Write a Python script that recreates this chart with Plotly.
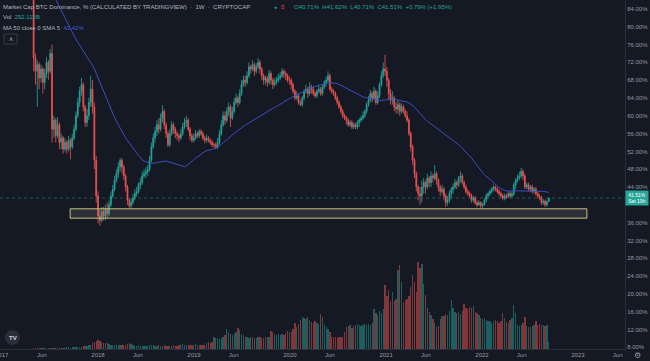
import pandas as pd
import plotly.graph_objects as go

# ---------------- DATA (weekly, Monday-start) ----------------
START = "2016-08-15"
FIRST_OPEN = 95.0

# 2016-08-15 .. 2017-04-24 (above the visible range) + 2017-05-01 .. 2017-12-25
close_a = [95.5, 95.8, 96.0, 95.7, 96.1, 95.9, 96.2, 96.0, 95.8, 96.1, 95.6, 95.9, 96.0, 95.4, 95.7, 95.5, 95.1, 94.8, 94.2,
           93.0, 92.0, 91.5, 92.2, 91.8, 91.0, 90.4, 89.8, 89.0, 88.5, 88.0, 87.8, 87.5, 88.0, 88.8, 88.0, 87.5, 87.0,
           73, 70, 71.5, 68.5, 70.5, 67.5, 69.5, 72, 70, 74, 57, 59, 55.5, 58, 54, 55, 52.5, 54, 52.5, 54.5, 53, 55, 57,
           60, 63, 65.5, 67, 62, 58.5, 60, 63, 66, 62, 50, 42]
high_a = [96.3, 96.5, 96.8, 96.4, 96.8, 96.6, 96.9, 96.7, 96.5, 96.8, 96.3, 96.6, 96.7, 96.1, 96.4, 96.2, 95.8, 95.5, 95.0,
          94.4, 93.2, 92.5, 93.0, 92.6, 91.8, 91.2, 90.6, 89.8, 89.3, 88.8, 88.5, 88.3, 88.8, 89.6, 89.2, 88.5, 88.2,
          87.5, 74, 72.5, 72, 71.5, 71, 70.5, 73.2, 72.5, 75, 76, 60, 59.5, 59.7, 58.5, 56, 55.5, 55, 54.5, 55.5, 55, 56,
          58, 61, 64, 66.5, 68.5, 67.5, 62.5, 61.5, 64, 69, 68, 63, 51]
low_a = [94.8, 95.1, 95.3, 95.0, 95.4, 95.2, 95.5, 95.3, 95.1, 95.4, 94.9, 95.2, 95.3, 94.7, 95.0, 94.8, 94.4, 94.1, 93.5,
         92.3, 91.3, 90.8, 91.2, 91.0, 90.3, 89.7, 89.1, 88.3, 87.8, 87.3, 87.1, 86.8, 87.2, 87.8, 87.3, 86.8, 86.3,
         70, 67, 62, 66, 67.5, 65, 66, 68.5, 68, 69.5, 54, 55, 54, 55, 52.5, 52.5, 51.5, 52, 51.5, 52, 50.2, 52.5, 54.5,
         56.5, 59.5, 62, 64.5, 61, 57.5, 57.5, 59, 62, 60.5, 48, 40.5]

# 2018-01-01 .. 2018-12-24
close_b = [37.5, 36.5, 38.5, 37.5, 39, 38, 40, 42, 43.5, 45.5, 47, 48.5, 50, 48.5, 46.5, 44, 41, 39.8, 40.5, 41.5,
           42.5, 43, 44.5, 45, 46.5, 47, 47.5, 48, 50, 53, 55, 56.5, 58, 57, 59.5, 61, 58, 56, 53.5, 56,
           58, 57, 56, 55.5, 55, 56, 57.5, 58.5, 59, 57, 55.5, 54.5]
high_b = [43, 39, 39.5, 39.5, 40, 40.5, 41, 43, 44.5, 46.5, 48, 49.5, 50.5, 50.5, 49, 47, 44.5, 41.5, 41.5, 42.5,
          43.5, 44, 45, 46, 47.5, 48, 48.5, 49, 51, 54, 56, 57.5, 59, 59.5, 60.5, 62.4, 61.5, 58.5, 56.5, 57,
          58.8, 58.5, 57.5, 56.5, 56, 57, 58.5, 59.5, 60, 59.5, 57.5, 56]
low_b = [35.8, 35.3, 36, 36.5, 36.5, 37, 37.5, 39.5, 41.5, 43, 45, 46, 47.5, 47, 45.5, 43, 40, 39.2, 39.3, 40,
         41, 41.8, 42.5, 43.5, 44.5, 46, 46, 46.5, 47.5, 49.5, 52.5, 54, 55.5, 56, 56.5, 58.5, 57, 55, 53, 53,
         55.5, 56, 55, 54.5, 54, 54.5, 55.5, 57, 57.5, 56.5, 54.5, 54]

# 2018-12-31 .. 2019-12-23
close_c = [55, 56, 55.5, 56.5, 56, 55, 54.5, 55, 54.5, 54, 53.5, 53.5, 53, 54, 56, 58, 60, 59, 61, 62,
           59.5, 61, 63, 64, 63, 65, 67, 68, 67.5, 69, 71, 70.5, 71.5, 70, 71, 72, 70.5, 69, 68, 68.5,
           67.5, 69.5, 68, 67, 67.5, 68, 68.5, 69, 70, 69.5, 69, 68]
high_c = [56, 56.8, 56.5, 57, 57, 56.5, 55.5, 55.8, 55.5, 55, 54.5, 54, 54, 55, 56.8, 59, 61, 61, 62, 63,
          62.5, 62, 64, 65, 64.5, 66, 68, 69, 69, 70, 72, 71.5, 72.5, 72, 71.8, 73, 72.5, 71, 69.5, 69,
          69, 70.3, 70, 68.5, 68.5, 68.8, 69.5, 69.8, 70.7, 70.5, 70, 69.5]
low_c = [54, 54.5, 55, 55, 55.5, 54.5, 53.8, 54, 54, 53.5, 53, 52.8, 52.5, 52.5, 53.5, 55.5, 57.5, 58, 58.5, 60,
         57.5, 59, 60.5, 62.5, 62, 62.5, 64.5, 66.5, 66.5, 67, 68.5, 69.5, 70, 69, 69.5, 70.5, 69.5, 68, 67, 67,
         66.5, 67, 67, 66, 66.5, 67, 67.5, 68, 68.5, 68.5, 68, 67.5]

# 2019-12-30 .. 2020-12-21
close_d = [68, 67, 65.5, 64, 64.5, 63, 62.5, 64, 65.5, 66, 65, 66.5, 66, 65, 64.5, 65.5, 66, 65, 66.5, 67.5,
           68, 69, 66, 65.5, 65, 64, 63, 62, 61, 60, 59.5, 59, 58, 58.5, 57.5, 58, 57.5, 58.5, 59, 59.5,
           60, 61, 62.5, 63.5, 65, 64, 65.5, 63, 64.5, 67, 69, 70.5]
high_d = [69, 68.5, 67.5, 66, 65.5, 65, 63.5, 64.5, 66, 67, 66.5, 67.5, 67, 66.5, 65.5, 66, 67, 66.5, 67, 68,
          68.8, 70, 69.5, 66.5, 66, 65.5, 64.5, 63.5, 62.5, 61.5, 60.5, 60, 59.5, 59, 59, 58.5, 58.5, 59, 59.5, 60,
          61, 61.5, 63, 64.5, 65.8, 65.5, 66.5, 66, 65.5, 67.5, 70, 72]
low_d = [67, 66, 65, 63.5, 63.5, 62.5, 62.2, 62, 63.5, 65, 64, 64.5, 65, 64.5, 64, 64, 65, 64.5, 64.5, 66,
         66.5, 67.5, 65.5, 65, 64.5, 63.5, 62.5, 61.5, 60.5, 59.5, 59, 58, 57.5, 57.5, 57, 57, 57, 57, 57.5, 58.5,
         59, 59.5, 60.5, 62, 63, 63, 63.5, 62.5, 62.5, 64, 66.5, 68.5]

# 2020-12-28 .. 2021-12-20
close_e = [70, 68, 65, 63.5, 64, 62, 61.5, 62.5, 61, 62, 61, 60, 59, 56, 53, 50, 47, 44, 42.5, 42,
           44, 45, 44, 46, 45, 46.5, 46, 47, 45.5, 44, 43, 43.5, 42, 40.5, 41, 42.5, 43.5, 44, 45, 44.5,
           46, 46.5, 45, 44, 43, 42.5, 42, 41, 41.5, 40.5, 40, 40.5]
high_e = [73.7, 71, 68.5, 66, 65.5, 64.5, 63, 63.5, 63, 62.8, 62.5, 61.5, 61, 59.5, 56.5, 53.5, 50.5, 47.5, 44.5, 44,
          45.5, 46, 45.5, 47, 46.5, 47.5, 47, 48.9, 47.5, 46, 44.5, 44.5, 44, 42.5, 42, 43.2, 44, 44.8, 45.8, 45.5,
          46.5, 47.5, 47, 45.5, 44.5, 43.5, 43, 42.5, 42, 42, 41, 41]
low_e = [69, 66.5, 63.5, 62.5, 62.5, 61, 60.5, 60.5, 60, 60.5, 60.5, 59.5, 58.5, 55.5, 52, 49, 46, 43, 41, 40,
         40.5, 42.5, 42.5, 43.5, 44, 44, 45, 45.5, 44.5, 43, 42, 42.5, 41, 39.5, 39.8, 40.5, 41.5, 42.5, 43.5, 43.5,
         44, 45, 44.5, 43.5, 42.5, 42, 41.5, 40.5, 40.5, 40, 39.5, 39.8]

# 2021-12-27 .. 2022-09-12
close_f = [39.8, 40, 41, 42, 42.5, 43, 43.5, 44, 43.5, 43, 42.5, 42, 41.5, 42, 41.8, 42.5, 42, 42.5, 44.5, 45.5,
           46, 46.5, 47.5, 46.5, 44, 44.5, 43.5, 44, 43, 43.5, 42.5, 42, 41.5, 40.5, 40.8, 40, 40.71, 41.51]
high_f = [40.8, 40.5, 41.5, 42.5, 43, 43.5, 44, 44.5, 44.3, 44, 43.5, 43, 42.5, 42.5, 42.5, 43, 43, 43, 45, 46,
          46.8, 47.5, 48.3, 48, 47, 45, 45, 44.5, 44.5, 44, 44, 43, 42.5, 42, 41.3, 41.2, 41, 41.62]
low_f = [39.3, 39.3, 39.8, 40.5, 41.5, 42, 42.5, 43, 43, 42.5, 42, 41.5, 41, 41, 41.3, 41.5, 41.5, 41.5, 42, 43.5,
         45, 45.5, 46, 45.5, 43.5, 43.5, 43, 43, 42.5, 42.5, 42, 41.5, 41, 40, 40, 39.5, 39.6, 40.71]

# weekly volume (billions), from 2017-05-01 onward
VOL_START = "2017-05-01"
volume = [25, 30, 30, 35, 30, 35, 40, 35, 40, 45, 50, 40, 40, 45, 40, 60, 55, 60, 65, 70, 60, 65, 70, 75, 80, 85, 90,
          110, 120, 140, 160, 150, 250, 300, 330,
          360, 330, 280, 240, 230, 240, 210, 180, 170, 160, 165, 160, 170, 160, 165, 170, 190, 230, 210, 150,
          145, 140, 150, 145, 140, 135, 140, 145, 150, 160, 150, 145, 140, 150, 145, 140, 150, 145, 140, 135,
          140, 150, 140, 145, 150, 170, 190, 180, 175, 170, 180, 185,
          180, 190, 175, 180, 170, 175, 180, 270, 280, 250, 300, 500, 460, 440, 420, 450, 480, 600, 830, 700,
          620, 600, 640, 700, 860, 780, 640, 600, 520, 480, 470, 490, 480, 460, 470, 490, 480, 470, 460, 500,
          520, 500, 750, 700, 620, 600, 640, 600, 620, 600, 650, 750,
          720, 700, 850, 1070, 900, 1050, 1200, 1330, 1300, 1250, 1330, 1200, 1120, 1080, 1150, 1100, 1050, 1440,
          1350, 1000, 900, 850, 700, 520, 480, 500, 450, 480, 520, 520, 700, 900, 950, 1000, 880, 950, 1000, 1040,
          1000, 950, 1000, 1040, 1000, 1050, 1000, 1100, 1650, 1500, 1400, 1580, 1500, 1650,
          2670, 2200, 2460, 2000, 2390, 2000, 2100, 3300, 3500, 2800, 1970, 2050, 2100, 2200, 2600, 3100, 2800, 2390,
          3630, 3400, 3530, 2700, 2250, 1700, 1560, 1400, 1250, 1100, 930, 950, 1250, 1380, 1380, 1450, 1400, 1600,
          2040, 1700, 1550, 1500, 1550, 1450, 1600, 1860, 1700, 1650, 1750, 1700, 1800, 1550, 1490, 1400,
          1300, 1250, 1290, 1200, 1150, 1170, 1100, 1170, 1200, 1150, 1100, 1170, 1490, 1300, 1140, 1100, 1200, 1300,
          1840, 1500, 1000, 950, 1000, 1100, 1350, 950, 930, 900, 950, 1000, 1180, 1000, 1050, 1000, 1000, 980, 1000, 290]

support_zone = (37.0, 39.1)
support_dates = ("2017-09-17", "2023-02-04")
ma_period = 50
price_ticks = [84, 80, 76, 72, 68, 64, 60, 56, 52, 48, 44, 36, 32, 28, 24, 20, 16, 12, 8]
time_ticks = ["2017-06-01", "2018-01-01", "2018-06-01", "2019-01-01", "2019-06-01",
              "2020-01-01", "2020-06-01", "2021-01-01", "2021-06-01", "2022-01-01", "2022-06-01",
              "2023-01-01", "2023-06-01"]
time_labels = ["Jun", "2018", "Jun", "2019", "Jun", "2020", "Jun", "2021", "Jun", "2022", "Jun", "2023", "Jun"]

# ---------------- BUILD ----------------
close = close_a + close_b + close_c + close_d + close_e + close_f
high = high_a + high_b + high_c + high_d + high_e + high_f
low = low_a + low_b + low_c + low_d + low_e + low_f
assert len(close) == len(high) == len(low)
dates = pd.date_range(START, periods=len(close), freq="W-MON")
openp = [FIRST_OPEN] + close[:-1]
high = [max(h, o, c) for h, o, c in zip(high, openp, close)]
low = [min(l, o, c) for l, o, c in zip(low, openp, close)]
df = pd.DataFrame({"open": openp, "high": high, "low": low, "close": close}, index=dates)
ma = df["close"].rolling(ma_period).mean()

vstart = list(dates).index(pd.Timestamp(VOL_START))
vdates = dates[vstart:vstart + len(volume)]
vup = [c >= o for o, c in zip(openp[vstart:], close[vstart:])]

UP = "#26a69a"
DOWN = "#ef5350"
BG = "#151924"
TXT = "#9598a1"
PW, PH = 625, 349
YMIN, YMAX = 7.6, 86.02

fig = go.Figure()
fig.add_trace(go.Bar(
    x=vdates, y=volume, yaxis="y2",
    marker=dict(color=["rgba(38,166,154,0.5)" if u else "rgba(239,83,80,0.5)" for u in vup], line=dict(width=0)),
    width=7 * 24 * 3600 * 1000 * 0.72, hoverinfo="skip", showlegend=False))
fig.add_trace(go.Candlestick(
    x=dates, open=df["open"], high=df["high"], low=df["low"], close=df["close"],
    increasing=dict(line=dict(color=UP, width=0.8), fillcolor=UP),
    decreasing=dict(line=dict(color=DOWN, width=0.8), fillcolor=DOWN),
    whiskerwidth=0, showlegend=False, hoverinfo="skip"))
fig.add_trace(go.Scatter(x=dates, y=ma, mode="lines", line=dict(color="#3a4fbf", width=1),
                         showlegend=False, hoverinfo="skip"))

shapes = [
    dict(type="rect", xref="x", yref="y", x0=support_dates[0], x1=support_dates[1],
         y0=support_zone[0], y1=support_zone[1], line=dict(color="#c9c47a", width=1),
         fillcolor="rgba(150,150,150,0.18)", layer="above"),
    dict(type="line", xref="x domain", yref="y", x0=0, x1=1, y0=close[-1], y1=close[-1],
         line=dict(color="rgba(38,166,154,0.45)", width=1, dash="dot")),
    dict(type="circle", xref="paper", yref="paper", x0=5 / PW, x1=20 / PW, y0=1 - 345 / PH, y1=1 - 330 / PH,
         fillcolor="#2a2e39", line=dict(width=0)),
    dict(type="rect", xref="paper", yref="paper", x0=4 / PW, x1=17 / PW, y0=1 - 44 / PH, y1=1 - 34 / PH,
         fillcolor=BG, line=dict(color="#363a45", width=1)),
]


def ann(px, py, text, color=TXT, size=6, anchor="left", **kw):
    return dict(x=px / PW, y=1 - py / PH, xref="paper", yref="paper", text=text, showarrow=False,
                xanchor=anchor, yanchor="middle", font=dict(color=color, size=size, family="Liberation Sans"), **kw)


annotations = [
    ann(1, 7, "Market Cap BTC Dominance, % (CALCULATED BY TRADINGVIEW)  ·  1W  ·  CRYPTOCAP", "#b2b5be"),
    ann(272, 7, "●", UP, 5),
    ann(279, 7, "≡", DOWN, 6),
    ann(292, 7, "O40.71%  H41.62%  L40.71%  C41.51%  +0.79% (+1.95%)", UP),
    ann(1, 17, "Vol  <span style='color:#26a69a'>292.115B</span>", "#b2b5be"),
    ann(1, 28, "MA 50 close 0 SMA 5  <span style='color:#3f5fd8'>42.42%</span>", "#b2b5be"),
    ann(10.5, 39, "˄", "#b2b5be", 7, anchor="center"),
    ann(12.5, 338, "<b>TV</b>", "#d1d4dc", 6, anchor="center"),
    ann(637, 355, "⚙", TXT, 8, anchor="center"),
    ann(2, 355, "2017", TXT, 6, anchor="center"),
    dict(x=1.0, y=close[-1], xref="paper", yref="y", text="41.51%<br>Sat 19h", showarrow=False,
         xanchor="left", yanchor="middle", bgcolor=UP, width=22, height=14, borderpad=0,
         font=dict(color="#ffffff", size=5, family="Liberation Sans")),
]

fig.update_layout(
    width=650, height=361, margin=dict(l=0, r=25, t=0, b=12),
    paper_bgcolor=BG, plot_bgcolor=BG, bargap=0,
    font=dict(family="Liberation Sans", color=TXT, size=6),
    xaxis=dict(type="date", range=["2016-12-24", "2023-06-29"], tickvals=time_ticks, ticktext=time_labels,
               showgrid=False, zeroline=False, showline=True, linecolor="#2a2e39", ticks="",
               tickfont=dict(size=6, color=TXT), rangeslider=dict(visible=False), automargin=False,
               fixedrange=True),
    yaxis=dict(side="right", range=[YMIN, YMAX], tickvals=price_ticks,
               ticktext=[f"{v:.2f}%" for v in price_ticks], showgrid=False, zeroline=False,
               showline=True, linecolor="#2a2e39", ticks="", tickfont=dict(size=6, color=TXT),
               automargin=False, fixedrange=True),
    yaxis2=dict(overlaying="y", range=[0, 14560], visible=False, fixedrange=True),
    shapes=shapes, annotations=annotations, showlegend=False,
)

fig.write_html("out.html", config={"displayModeBar": False},
               post_script="document.body.style.margin='0';document.body.style.background='#151924';")
